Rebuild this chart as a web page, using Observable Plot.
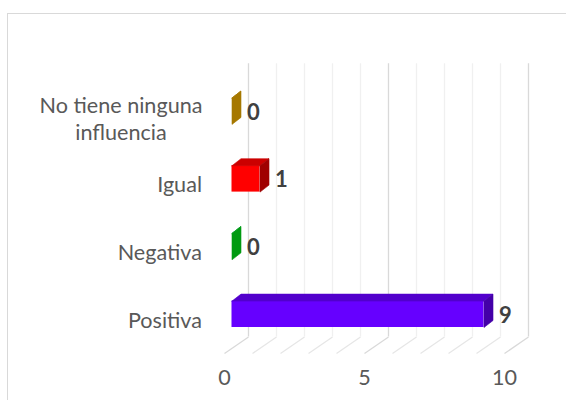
<!DOCTYPE html>
<html>
<head>
<meta charset="utf-8">
<script src="https://cdn.jsdelivr.net/npm/d3@7"></script>
<script src="https://cdn.jsdelivr.net/npm/@observablehq/plot@0.6"></script>
<style>
  html, body { margin: 0; padding: 0; background: #fff; }
  #wrap { position: relative; width: 566px; height: 400px; overflow: hidden; }
  #border { position: absolute; left: 7px; top: 13px; width: 620px; height: 460px; border: 1px solid #d9d9d9; box-sizing: border-box; }
  #chart { position: absolute; left: 0; top: 0; }
</style>
</head>
<body>
<div id="wrap"><div id="border"></div><div id="chart"></div></div>
<script>
// ---- data ----
const categories = ["No tiene ninguna\ninfluencia", "Igual", "Negativa", "Positiva"];
const values = [0, 1, 0, 9];
const frontColors = ["#b8860b", "#ff0000", "#00b050", "#6600ff"];
const topColors   = ["#a67800", "#cc0000", "#00a040", "#5200cc"];
const sideColors  = ["#a67800", "#a00000", "#009a10", "#4400a8"];
const xTicks = [0, 5, 10];
const gridTicks = [0, 1, 2, 3, 4, 5, 6, 7, 8, 9, 10];

// ---- layout (pixels) ----
const W = 566, H = 400;
const X0 = 231.5, UX = 28;            // front face of bars: value 0 pixel, pixels per unit
const ROW0 = 110.7, UY = 67.7;        // center of first category, pixels per row
const mTop = ROW0 - 0.5 * UY;
const mBottom = H - (ROW0 + 3.5 * UY);
const mLeft = X0, mRight = W - (X0 + 10 * UX);

// depth offsets (in data units)
const DX = 9 / UX, DY = -7 / UY;       // bar depth
const HALF = 13.2 / UY;                // half bar height
const FLOOR_FRONT_DX = -7.5 / UX, FLOOR_BACK_DX = 16.5 / UX;
const FLOOR_FRONT_Y = (353 - ROW0) / UY, FLOOR_BACK_Y = (336.5 - ROW0) / UY;

const rows = categories.map((c, i) => ({cat: c, i, v: values[i], front: frontColors[i], top: topColors[i], side: sideColors[i]}));
const singleRows = rows.filter(r => !r.cat.includes("\n"));
const multiRows = rows.filter(r => r.cat.includes("\n"));

// polygons for top and side faces
const polys = [];
rows.forEach(r => {
  const yt = r.i - HALF, yb = r.i + HALF;
  const topF = [[0, yt], [r.v, yt], [r.v + DX, yt + DY], [DX, yt + DY], [0, yt]];
  const sideF = [[r.v, yt], [r.v, yb], [r.v + DX, yb + DY], [r.v + DX, yt + DY], [r.v, yt]];
  topF.forEach(([x, y]) => polys.push({id: "t" + r.i, x, y, color: r.top}));
  sideF.forEach(([x, y]) => polys.push({id: "s" + r.i, x, y, color: r.side}));
});

const isMajor = d => d % 5 === 0;
const LABEL_FONT = 21.6;

const chart = Plot.plot({
  width: W, height: H,
  marginTop: mTop, marginBottom: mBottom, marginLeft: mLeft, marginRight: mRight,
  x: {domain: [0, 10], axis: null},
  y: {domain: [3.5, -0.5], axis: null},
  color: {type: "identity"},
  style: {fontFamily: "Lato, 'Open Sans', sans-serif", background: "transparent", overflow: "visible"},
  marks: [
    // back wall gridlines
    Plot.ruleX(gridTicks, {x: d => d, dx: 16.5, insetTop: -13.5, insetBottom: 11.15,
      stroke: d => isMajor(d) ? "#d9d9d9" : "#f0f0f0", strokeWidth: 1.3}),
    // floor diagonal gridlines
    Plot.link(gridTicks, {x1: d => d + FLOOR_FRONT_DX, x2: d => d + FLOOR_BACK_DX, y1: () => FLOOR_FRONT_Y, y2: () => FLOOR_BACK_Y,
      stroke: d => isMajor(d) ? "#d9d9d9" : "#e6e6e6", strokeWidth: 1.3}),
    // bar front faces
    Plot.rect(rows, {x1: () => 0, x2: "v", y1: d => d.i - HALF, y2: d => d.i + HALF, fill: "front"}),
    // bar top & side faces
    Plot.line(polys, {x: "x", y: "y", z: "id", fill: "color", stroke: "color", strokeWidth: 0.6}),
    // category labels (single line, right-aligned)
    Plot.text(singleRows, {frameAnchor: "left", y: "i", text: "cat", dx: -30, dy: 6.5, textAnchor: "end",
      fontSize: LABEL_FONT, fill: "#595959"}),
    // category labels (wrapped, centered block)
    Plot.text(multiRows, {frameAnchor: "left", y: "i", text: "cat", dx: -111, dy: 6.5, textAnchor: "middle", lineHeight: 1.27,
      fontSize: LABEL_FONT, fill: "#595959"}),
    // value labels
    Plot.text(rows, {x: "v", y: "i", text: d => String(d.v), dx: 15, dy: 1.5, textAnchor: "start",
      fontSize: 22, fontWeight: "bold", fill: "#404040"}),
    // x tick labels
    Plot.text(xTicks, {x: d => d, frameAnchor: "bottom", dx: -7.5, dy: 37, text: d => String(d),
      fontSize: LABEL_FONT, fill: "#595959"})
  ]
});
document.getElementById("chart").appendChild(chart);
</script>
</body>
</html>
